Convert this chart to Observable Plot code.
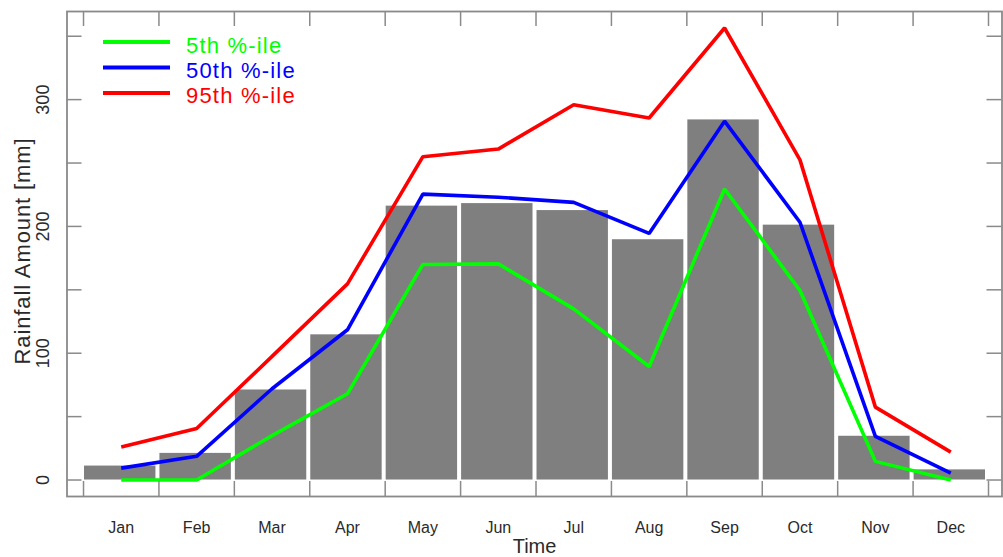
<!DOCTYPE html>
<html>
<head>
<meta charset="utf-8">
<script src="https://cdn.jsdelivr.net/npm/d3@7"></script>
<script src="https://cdn.jsdelivr.net/npm/@observablehq/plot@0.6"></script>
<style>
  html, body { margin: 0; padding: 0; background: #fff; }
  #chart svg { display: block; }
</style>
</head>
<body>
<div id="chart"></div>
<script>
// ---- Data ----
const months = ["Jan","Feb","Mar","Apr","May","Jun","Jul","Aug","Sep","Oct","Nov","Dec"];
const monthlyRain = [11, 21, 71, 114.5, 216, 218, 212.5, 189.5, 284, 201, 34.5, 8];
const p5  = [0, 0, 35, 68, 170, 170.5, 135, 89.5, 229.5, 149.5, 14.7, 0];
const p50 = [9.4, 18.7, 72, 118.5, 225.5, 223, 219, 194.5, 283, 203.3, 34.4, 5.4];
const p95 = [26, 40.6, 97.5, 154.7, 255, 261, 296, 285.5, 356.5, 252.5, 57.5, 22];
const seriesNames = ["5th %-ile", "50th %-ile", "95th %-ile"];
const seriesColors = ["#00ff00", "#0000ff", "#ff0000"];
const yTicks = [0, 50, 100, 150, 200, 250, 300, 350];
const yTickLabels = [0, 100, 200, 300];
const yTitle = "Rainfall Amount [mm]";
const xTitle = "Time";

// ---- Tables built from the arrays ----
const bars = months.map((m, i) => ({month: m, i, value: monthlyRain[i]}));
const lines = [p5, p50, p95].flatMap((arr, s) =>
  arr.map((v, i) => ({series: seriesNames[s], i, value: v})));
const boundaries = d3.range(months.length + 1).map(i => i - 0.5);

// ---- Layout ----
const W = 1003, H = 557;
const mL = 66.5, mR = 1.5, mT = 11, mB = 61;
const frameW = W - mL - mR, frameH = H - mT - mB;
const tickLen = 15;
const font = "'Liberation Sans', Arial, Helvetica, sans-serif";
const frameColor = "#8a8a8a";
const textColor = "#2a2a2a";

const plot = Plot.plot({
  width: W, height: H,
  marginLeft: mL, marginRight: mR, marginTop: mT, marginBottom: mB,
  style: {fontFamily: font, background: "#fff"},
  x: {type: "linear", domain: [-0.719, 11.679], axis: null},
  y: {type: "linear", domain: [-13, 369.5], axis: null},
  marks: [
    Plot.rectY(bars, {x1: d => d.i - 0.5, x2: d => d.i + 0.5, y1: 0, y2: "value",
      fill: "#7f7f7f", insetLeft: 1, insetRight: 3}),
    Plot.line(lines, {x: "i", y: "value", z: "series",
      stroke: d => seriesColors[seriesNames.indexOf(d.series)],
      strokeWidth: 3.6, strokeLinejoin: "miter", strokeLinecap: "butt"}),
    // inward ticks, bottom & top
    Plot.tickX(boundaries, {x: d => d, insetTop: frameH - tickLen, stroke: frameColor, strokeWidth: 1.5}),
    Plot.tickX(boundaries, {x: d => d, insetBottom: frameH - tickLen, stroke: frameColor, strokeWidth: 1.5}),
    // inward ticks, left & right
    Plot.tickY(yTicks, {y: d => d, insetRight: frameW - tickLen, stroke: frameColor, strokeWidth: 1.5}),
    Plot.tickY(yTicks, {y: d => d, insetLeft: frameW - tickLen, stroke: frameColor, strokeWidth: 1.5}),
    Plot.frame({stroke: frameColor, strokeWidth: 1.8}),
    // month labels
    Plot.text(months, {x: (d, i) => i, frameAnchor: "bottom", dy: 31,
      textAnchor: "middle", lineAnchor: "middle",
      fontSize: 16, fill: textColor, text: d => d}),
    // y tick labels (rotated)
    Plot.text(yTickLabels, {y: d => d, frameAnchor: "left", dx: -24, rotate: -90,
      textAnchor: "middle", lineAnchor: "middle",
      fontSize: 18, fill: textColor, text: d => String(d)}),
    // axis titles
    Plot.text([yTitle], {frameAnchor: "left", dx: -44.5, dy: -3, rotate: -90,
      textAnchor: "middle", lineAnchor: "middle",
      fontSize: 22, fill: textColor, text: d => d}),
    Plot.text([xTitle], {frameAnchor: "bottom", dy: 50,
      textAnchor: "middle", lineAnchor: "middle",
      fontSize: 20, fill: textColor, text: d => d})
  ]
});

// letter spacing for the y title
d3.select(plot).selectAll("text").filter(function () { return this.textContent === yTitle; })
  .style("letter-spacing", "0.9px");

// ---- Legend (inside the plot, top-left) ----
const leg = d3.select(plot).append("g").attr("font-family", font).attr("text-anchor", "start");
seriesNames.forEach((name, k) => {
  const yLine = 42 + k * 25.5;
  leg.append("line")
    .attr("x1", 103).attr("x2", 170).attr("y1", yLine).attr("y2", yLine)
    .attr("stroke", seriesColors[k]).attr("stroke-width", 3.8);
  leg.append("text")
    .attr("x", 186).attr("y", 53 + k * 25)
    .attr("text-anchor", "start")
    .attr("fill", seriesColors[k]).attr("font-size", 22)
    .style("letter-spacing", "1.2px")
    .text(name);
});

document.getElementById("chart").appendChild(plot);
</script>
</body>
</html>
